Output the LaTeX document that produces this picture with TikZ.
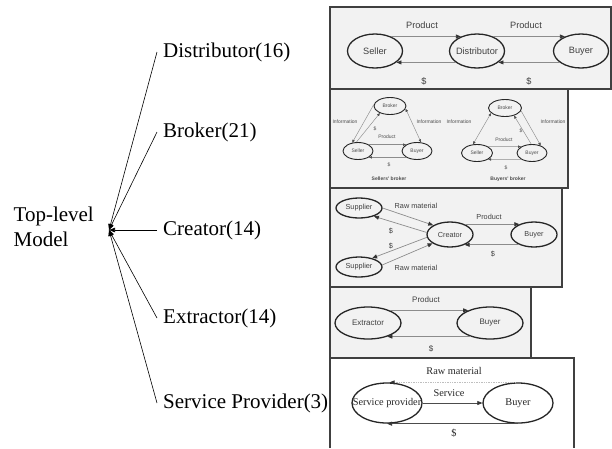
\documentclass[tikz,border=0pt]{standalone}
\usepackage{fontspec}
\setmainfont{Liberation Serif}
\newfontfamily\arialf{Liberation Sans}
\usetikzlibrary{shapes.geometric,arrows.meta,positioning}

\begin{document}
\begin{tikzpicture}[x=1pt,y=-1pt,
  every node/.append style={inner sep=0pt},
  panel/.style={draw=black!75,line width=1.6pt,fill=black!5},
  oval/.style 2 args={ellipse,draw=black!85,line width=1.3pt,minimum width=#1,minimum height=#2},
  flow/.style={draw=black!45,line width=0.7pt,-{Triangle[length=5pt,width=4pt,color=black!80]}},
  thin flow/.style={draw=black!45,line width=0.45pt,-{Triangle[length=3pt,width=2.4pt,color=black!70]}},
  two way/.style={draw=black!45,line width=0.45pt,{Triangle[length=3pt,width=2.4pt,color=black!70]}-{Triangle[length=3pt,width=2.4pt,color=black!70]}},
  branch/.style={anchor=west,inner xsep=6pt,font=\fontsize{21}{25}\selectfont},
  fan/.style={line width=0.6pt,-{Triangle[length=6pt,width=4.5pt]}}]
\useasboundingbox (0,0) rectangle (612,448);

% Left: top-level model and its branches
\coordinate (hub) at (109,230);
\node[align=left,left=15pt of hub,yshift=3pt,font=\fontsize{21}{25}\selectfont] (top) {Top-level\\Model};
\node[branch] (fdis) at (157,52) {Distributor(16)};
\node[branch] (fbro) at (157,132) {Broker(21)};
\node[branch] (fcre) at (157,230) {Creator(14)};
\node[branch] (fext) at (157,318) {Extractor(14)};
\node[branch] (fser) at (157,403) {Service Provider(3)};
\draw[fan] (fdis.west) -- (hub);
\draw[fan] (fbro.west) -- (hub);
\draw[fan] (fcre.west) -- (hub);
\draw[fan] (fext.west) -- (hub);
\draw[fan] (fser.west) -- (hub);

% Distributor
\begin{scope}[font=\arialf\fontsize{9.2}{11}\selectfont,text=black!75]
\draw[panel] (330,7) rectangle (611,89);
\node[oval={55pt}{34pt},label=center:Seller] (sel) at (375,51) {};
\node[oval={55pt}{34pt},label=center:Distributor] (dis) at (477,51) {};
\node[oval={55pt}{34pt},label=center:Buyer] (buy) at (581,51) {};
\draw[flow] (sel.42) -- (dis.138);
\draw[flow] (dis.42) -- (buy.138);
\draw[flow] (dis.208) -- (sel.-28);
\draw[flow] (buy.208) -- (dis.-28);
\node (dprod1) at (422,25) {Product};
\node (dprod2) at (526,25) {Product};
\node (dpay1) at (424,81) {\$};
\node (dpay2) at (529,81) {\$};
\end{scope}

% Broker
\begin{scope}[font=\arialf\fontsize{5}{6}\selectfont,text=black!70,oval/.append style={line width=0.9pt}]
\draw[panel] (330,89) rectangle (568,188);
% sellers' broker
\node[oval={32pt}{17pt},label=center:Broker] (sbro) at (390,106) {};
\node[oval={30pt}{17pt},label=center:Seller] (ssel) at (358,151) {};
\node[oval={30pt}{17pt},label=center:Buyer] (sbuy) at (417,151) {};
\draw[thin flow] (sbro.175) -- (ssel.125);
\draw[thin flow] (ssel.100) -- (sbro.215);
\draw[two way] (sbro.-10) -- (sbuy.65);
\draw[thin flow] (ssel.30) -- (sbuy.150);
\draw[thin flow] (sbuy.-150) -- (ssel.-30);
\node (sinf1) at (345,122) {Information};
\node (sinf2) at (429,122) {Information};
\node (spay1) at (375,129) {\$};
\node (sprod) at (387,137) {Product};
\node (spay2) at (389,165) {\$};
\node[font=\arialf\bfseries\fontsize{5}{6}\selectfont] (stitle) at (389,179) {Sellers' broker};
% buyers' broker
\node[oval={33pt}{17pt},label=center:Broker] (bbro) at (505,108) {};
\node[oval={31pt}{17pt},label=center:Seller] (bsel) at (477,153) {};
\node[oval={30pt}{17pt},label=center:Buyer] (bbuy) at (532,153) {};
\draw[two way] (bbro.200) -- (bsel.115);
\draw[thin flow] (bbro.-10) -- (bbuy.40);
\draw[thin flow] (bbuy.95) -- (bbro.-40);
\draw[thin flow] (bsel.30) -- (bbuy.150);
\draw[thin flow] (bbuy.-150) -- (bsel.-30);
\node (binf1) at (459,122) {Information};
\node (binf2) at (553,122) {Information};
\node (bpay1) at (521,131) {\$};
\node (bprod) at (504,140) {Product};
\node (bpay2) at (506,168) {\$};
\node[font=\arialf\bfseries\fontsize{5}{6}\selectfont] (btitle) at (508,179) {Buyers' broker};
\end{scope}

% Creator
\begin{scope}[font=\arialf\fontsize{7.3}{9}\selectfont,text=black!75]
\draw[panel] (330,188) rectangle (562,287);
\node[oval={46pt}{20pt},label=center:Supplier] (sup1) at (359,208) {};
\node[oval={46pt}{20pt},label=center:Supplier] (sup2) at (359,267) {};
\node[oval={46pt}{25pt},label=center:Creator] (cre) at (450,234.5) {};
\node[oval={46pt}{25pt},label=center:Buyer] (cbuy) at (534,234.5) {};
\draw[flow] (sup1.0) -- (cre.151);
\draw[flow] (cre.175) -- (sup1.-29);
\draw[flow] (cre.187) -- (sup2.34);
\draw[flow] (sup2.5) -- (cre.207);
\draw[flow] (cre.35) -- (cbuy.145);
\draw[flow] (cbuy.-145) -- (cre.-35);
\node (craw1) at (416,206) {Raw material};
\node (craw2) at (416,268) {Raw material};
\node (cpay1) at (391,231) {\$};
\node (cpay2) at (391,246) {\$};
\node (cprod) at (489,217) {Product};
\node (cpay3) at (493,254) {\$};
\end{scope}

% Extractor
\begin{scope}[font=\arialf\fontsize{8}{10}\selectfont,text=black!75]
\draw[panel] (330,287) rectangle (531,358);
\node[oval={66pt}{32pt},label=center:Extractor] (ext) at (368,323) {};
\node[oval={66pt}{32pt},label=center:Buyer] (ebuy) at (490,323) {};
\draw[flow] (ext.30) -- (ebuy.150);
\draw[flow] (ebuy.-145) -- (ext.-35);
\node (eprod) at (426,300) {Product};
\node (epay) at (431,349) {\$};
\end{scope}

% Service provider
\begin{scope}[font=\fontsize{10.3}{12}\selectfont,text=black!85]
\draw[panel,fill=white] (330,448) -- (330,358) -- (574,358) -- (574,448);
\node[oval={70pt}{40pt},label=center:Service provider] (sp) at (387,403) {};
\node[oval={70pt}{40pt},label=center:Buyer] (pbuy) at (518,403) {};
\draw[flow,draw=black!70] (sp.east) -- (pbuy.west);
\draw[flow,draw=black!70] (pbuy.south) -- (sp.south);
\draw[flow,draw=black!25,densely dotted] (pbuy.97) -- (sp.83);
\node (praw) at (454,371) {Raw material};
\node (pserv) at (449,393) {Service};
\node (ppay) at (454,433) {\$};
\end{scope}
\end{tikzpicture}
\end{document}
